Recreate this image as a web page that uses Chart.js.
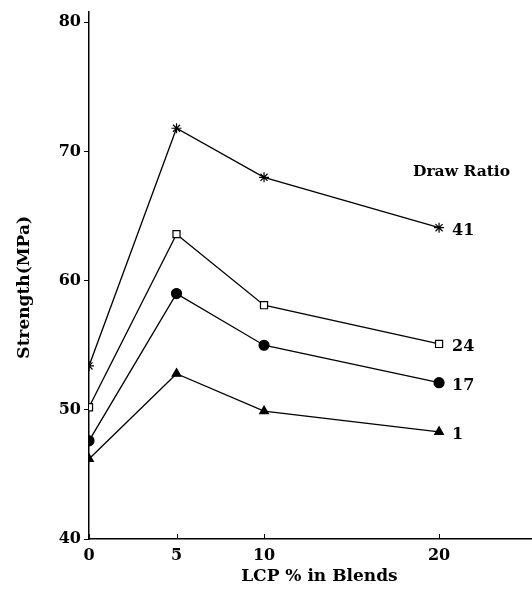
<!DOCTYPE html>
<html>
<head>
<meta charset="utf-8">
<script src="https://cdn.jsdelivr.net/npm/chart.js@4.4.0/dist/chart.umd.min.js"></script>
<style>
  html, body { margin: 0; padding: 0; background: #fff; }
  canvas { display: block; }
</style>
</head>
<body>
<canvas id="chart" width="532" height="595"></canvas>
<script>
// LCP content in blends (%)
const lcpContent = [0, 5, 10, 20];
const xTicks = [0, 5, 10, 20];
const yTicks = [40, 50, 60, 70, 80];

// strength (MPa) for each draw ratio
const drawRatios = ['41', '24', '17', '1'];
const dr41 = [53.4, 71.8, 68.0, 64.1];
const dr24 = [50.2, 63.6, 58.1, 55.1];
const dr17 = [47.6, 59.0, 55.0, 52.1];
const dr1 = [46.2, 52.8, 49.9, 48.3];

const FONT = '"DejaVu Serif", "Liberation Serif", serif';

const toPoints = arr => arr.map((v, i) => ({ x: lcpContent[i], y: v }));

function series(label, values, style, radius, fill) {
  return {
    label: label,
    data: toPoints(values),
    borderColor: '#000',
    borderWidth: 1.3,
    pointStyle: style,
    pointRadius: radius,
    pointBackgroundColor: fill,
    pointBorderColor: '#000',
    pointBorderWidth: 1.2,
    tension: 0,
    fill: false
  };
}

// series labels at the line ends, "Draw Ratio" heading, inward x ticks
const annotate = {
  id: 'annotate',
  afterDatasetsDraw(chart) {
    const ctx = chart.ctx;
    const x = chart.scales.x;
    const area = chart.chartArea;
    ctx.save();
    ctx.strokeStyle = '#000';
    ctx.lineWidth = 1;
    xTicks.forEach(v => {
      const px = Math.round(x.getPixelForValue(v)) + 0.5;
      ctx.beginPath();
      ctx.moveTo(px, area.bottom);
      ctx.lineTo(px, area.bottom - 5);
      ctx.stroke();
    });

    ctx.fillStyle = '#000';
    ctx.textBaseline = 'middle';
    ctx.textAlign = 'left';
    ctx.font = 'bold 16px ' + FONT;
    chart.data.datasets.forEach((ds, i) => {
      const meta = chart.getDatasetMeta(i);
      const last = meta.data[meta.data.length - 1];
      ctx.fillText(ds.label, last.x + 13, last.y + 3);
    });

    ctx.font = 'bold 15.5px ' + FONT;
    ctx.fillText('Draw Ratio', 413, 172);
    ctx.restore();
  }
};

new Chart(document.getElementById('chart'), {
  type: 'line',
  data: {
    datasets: [
      series(drawRatios[0], dr41, 'star', 5, '#000'),
      series(drawRatios[1], dr24, 'rect', 5, '#fff'),
      series(drawRatios[2], dr17, 'circle', 5, '#000'),
      series(drawRatios[3], dr1, 'triangle', 5, '#000')
    ]
  },
  options: {
    responsive: false,
    animation: false,
    devicePixelRatio: 1,
    layout: { autoPadding: false, padding: { top: 12, right: 0, left: 0, bottom: 0 } },
    plugins: {
      legend: { display: false },
      tooltip: { enabled: false }
    },
    scales: {
      x: {
        type: 'linear',
        min: 0,
        max: 25.31,
        afterBuildTicks: s => { s.ticks = xTicks.map(v => ({ value: v })); },
        afterFit: s => { s.height = 56; s.paddingLeft = 0; s.paddingRight = 0; },
        grid: { display: false, drawTicks: false, tickLength: 0 },
        border: { display: true, color: '#000', width: 1.5 },
        ticks: {
          color: '#000',
          padding: 7,
          maxRotation: 0,
          font: { family: FONT, size: 16, weight: 'bold' }
        },
        title: {
          display: true,
          text: '   LCP % in Blends',
          color: '#000',
          padding: { top: 0, bottom: 8 },
          font: { family: FONT, size: 17, weight: 'bold' }
        }
      },
      y: {
        type: 'linear',
        min: 40,
        max: 80.8,
        afterBuildTicks: s => { s.ticks = yTicks.map(v => ({ value: v })); },
        afterFit: s => { s.width = 89; s.paddingTop = 0; s.paddingBottom = 0; },
        grid: { drawOnChartArea: false, drawTicks: true, tickLength: 5, color: '#000', lineWidth: 1 },
        border: { display: true, color: '#000', width: 1.5 },
        ticks: {
          color: '#000',
          padding: 3,
          font: { family: FONT, size: 16, weight: 'bold' }
        },
        title: {
          display: true,
          text: 'Strength(MPa)    ',
          color: '#000',
          padding: { top: 14, bottom: 0 },
          font: { family: FONT, size: 17, weight: 'bold' }
        }
      }
    }
  },
  plugins: [annotate]
});
</script>
</body>
</html>
